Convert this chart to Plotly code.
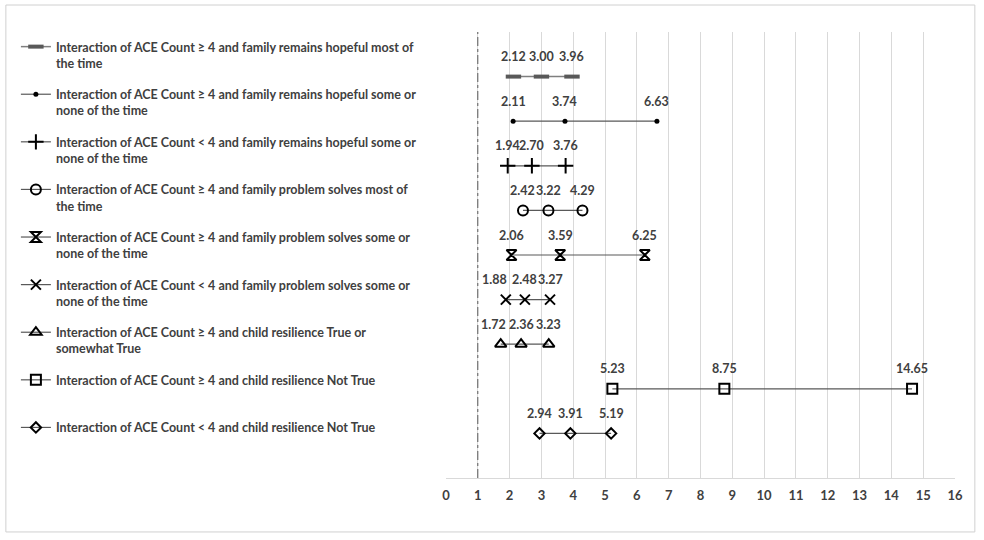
import plotly.graph_objects as go

series_names = [
    "Interaction of ACE Count ≥ 4 and family remains hopeful most of<br>the time",
    "Interaction of ACE Count ≥ 4 and family remains hopeful some or<br>none of the time",
    "Interaction of ACE Count < 4 and family remains hopeful some or<br>none of the time",
    "Interaction of ACE Count ≥ 4 and family problem solves most of<br>the time",
    "Interaction of ACE Count ≥ 4 and family problem solves some or<br>none of the time",
    "Interaction of ACE Count < 4 and family problem solves some or<br>none of the time",
    "Interaction of ACE Count ≥ 4 and child resilience True or<br>somewhat True",
    "Interaction of ACE Count ≥ 4 and child resilience Not True<br> ",
    "Interaction of ACE Count < 4 and child resilience Not True<br> ",
]
row_positions = [1, 2, 3, 4, 5, 6, 7, 8, 9]
lower = [2.12, 2.11, 1.94, 2.42, 2.06, 1.88, 1.72, 5.23, 2.94]
estimate = [3.00, 3.74, 2.70, 3.22, 3.59, 2.48, 2.36, 8.75, 3.91]
upper = [3.96, 6.63, 3.76, 4.29, 6.25, 3.27, 3.23, 14.65, 5.19]
x_ticks = list(range(0, 17))
reference_line = 1

# styling
symbols = ["line-ew", "circle", "cross-thin", "circle-open", "hourglass-open",
           "x-thin", "triangle-up-open", "square-open", "diamond-open"]
sizes = [11, 5, 11, 10, 10, 10, 10, 10, 8]
marker_line_w = [4, 0, 2, 2, 2, 2, 2, 2, 2]
lower_label_xshift = [0, 0, 0, 0, 0, -11, -7, 0, 0]

TXT = "#404040"
FONT = "Lato, sans-serif"

fig = go.Figure()
for i, name in enumerate(series_names):
    xs = [lower[i], estimate[i], upper[i]]
    ys = [row_positions[i]] * 3
    first = i == 0
    fig.add_trace(go.Scatter(
        x=xs, y=ys, mode="lines+markers", name=name,
        legendgroup=f"g{i}",
        line=dict(color="#7f7f7f" if first else "#595959", width=1.5 if first else 1.2),
        marker=dict(symbol=symbols[i], size=sizes[i],
                    color="#595959" if first else "#000000",
                    line=dict(width=marker_line_w[i], color="#595959" if first else "#000000")),
        hoverinfo="x+name",
    ))
    for j, xv in enumerate(xs):
        fig.add_annotation(x=xv, y=row_positions[i], text=f"{xv:.2f}",
                           showarrow=False, yshift=20,
                           xshift=lower_label_xshift[i] if j == 0 else 0,
                           xanchor="center", yanchor="middle",
                           font=dict(size=12.5, color=TXT, family=FONT, weight="bold"))

fig.add_shape(type="line", xref="x", yref="paper", x0=reference_line, x1=reference_line,
              y0=0, y1=1, line=dict(color="#595959", width=1, dash="dashdot"))
fig.add_shape(type="rect", xref="paper", yref="paper", x0=-0.8647, x1=1.039,
              y0=-0.121, y1=1.0605, line=dict(color="#d0d0d0", width=1), layer="below")

fig.update_layout(
    width=984, height=540,
    margin=dict(l=446, r=29, t=32, b=62),
    paper_bgcolor="white", plot_bgcolor="white",
    font=dict(family=FONT, color=TXT, size=12),
    showlegend=True,
    legend=dict(x=-0.845, y=1.0, xanchor="left", yanchor="top",
                valign="top", tracegroupgap=12.1, itemwidth=30,
                font=dict(size=12.5, color=TXT, family=FONT, weight="bold"),
                bgcolor="rgba(0,0,0,0)"),
    xaxis=dict(range=[0, 16], tickvals=x_ticks,
               showgrid=True, gridcolor="#d9d9d9", gridwidth=1, zeroline=False,
               showline=True, linecolor="#d9d9d9", ticks="", ticklabelstandoff=5,
               tickfont=dict(size=13, color=TXT, family=FONT, weight="bold"), fixedrange=True),
    yaxis=dict(range=[10, 0], showgrid=False, zeroline=False, showticklabels=False,
               showline=False, ticks="", fixedrange=True),
)

fig.write_html("out.html", config={"displayModeBar": False},
               post_script="document.body.style.margin='0';document.body.style.overflow='hidden';")
